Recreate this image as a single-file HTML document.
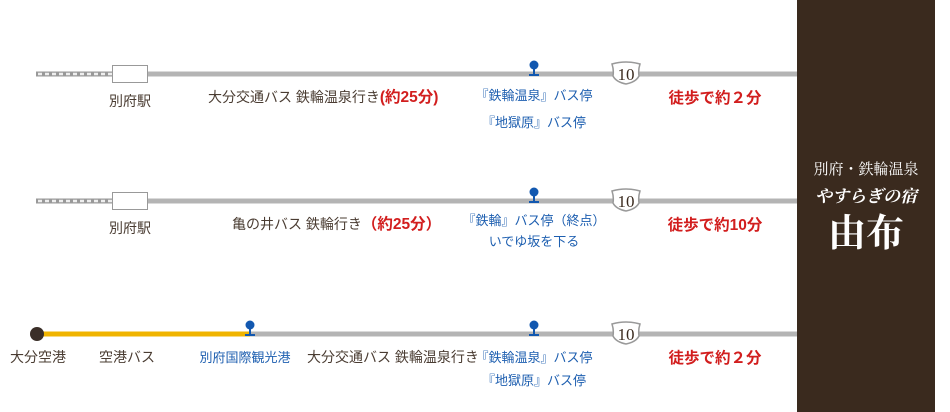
<!DOCTYPE html>
<html><head><meta charset="utf-8"><style>
body{margin:0;width:950px;height:412px;background:#fff;overflow:hidden}
svg{display:block}
text{font-family:"Liberation Sans","Noto Sans CJK JP",sans-serif;font-size:14px;fill:#4a3c32}
.b{fill:#1e5fb0;font-size:13px}.r{fill:#d21e1e;font-weight:bold;font-size:15.5px}
.n{font-family:"Liberation Serif","Noto Serif CJK SC",serif;font-size:17px;fill:#3a2a1e}
.w{fill:#fff;font-family:"Liberation Serif","Noto Serif CJK SC",serif}
</style></head><body>
<svg width="950" height="412" viewBox="0 0 950 412">
<defs>
<g id="pin"><circle cx="0" cy="-8" r="4.5" fill="#1258b0"/><rect x="-1" y="-6" width="2" height="7" fill="#1258b0"/><rect x="-5" y="1" width="10" height="2" fill="#1258b0"/></g>
<g id="sign"><path d="M-14,-10 Q0,-14 14,-10 Q12,-4 13,2 Q10,8 0,10 Q-10,8 -13,2 Q-12,-4 -14,-10Z" fill="#fff" stroke="#999" stroke-width="1.5"/></g>
</defs>
<!-- row1 -->
<rect x="36" y="71.5" width="76" height="5" fill="#999"/>
<line x1="38" y1="74" x2="112" y2="74" stroke="#eee" stroke-width="2.5" stroke-dasharray="4,3"/>
<rect x="148" y="71.5" width="650" height="5" fill="#b4b4b4"/>
<rect x="112.5" y="65.5" width="35" height="17" fill="#fff" stroke="#999"/>
<use href="#pin" x="534" y="73"/>
<use href="#sign" x="626" y="74"/><text class="n" x="626" y="80" text-anchor="middle">10</text>
<text x="130" y="106" text-anchor="middle">別府駅</text>
<text x="208" y="102">大分交通バス 鉄輪温泉行き<tspan class="r">(約25分)</tspan></text>
<text class="b" x="534" y="100" text-anchor="middle">『鉄輪温泉』バス停</text>
<text class="b" x="534" y="127" text-anchor="middle">『地獄原』バス停</text>
<text class="r" x="715" y="103" text-anchor="middle">徒歩で約２分</text>
<!-- row2 -->
<rect x="36" y="198.5" width="76" height="5" fill="#999"/>
<line x1="38" y1="201" x2="112" y2="201" stroke="#eee" stroke-width="2.5" stroke-dasharray="4,3"/>
<rect x="148" y="198.5" width="650" height="5" fill="#b4b4b4"/>
<rect x="112.5" y="192.5" width="35" height="17" fill="#fff" stroke="#999"/>
<use href="#pin" x="534" y="200"/>
<use href="#sign" x="626" y="201"/><text class="n" x="626" y="207" text-anchor="middle">10</text>
<text x="130" y="233" text-anchor="middle">別府駅</text>
<text x="232" y="229">亀の井バス 鉄輪行き<tspan class="r">（約25分）</tspan></text>
<text class="b" x="534" y="225" text-anchor="middle">『鉄輪』バス停（終点）</text>
<text class="b" x="534" y="246" text-anchor="middle">いでゆ坂を下る</text>
<text class="r" x="715" y="230" text-anchor="middle">徒歩で約10分</text>
<!-- row3 -->
<rect x="36" y="331.5" width="214" height="5" fill="#f0b400"/>
<rect x="250" y="331.5" width="548" height="5" fill="#b4b4b4"/>
<circle cx="37" cy="334" r="7" fill="#3a2e28"/>
<use href="#pin" x="250" y="333"/>
<use href="#pin" x="534" y="333"/>
<use href="#sign" x="626" y="334"/><text class="n" x="626" y="340" text-anchor="middle">10</text>
<text x="38" y="362" text-anchor="middle">大分空港</text>
<text x="127" y="362" text-anchor="middle">空港バス</text>
<text class="b" x="245" y="362" text-anchor="middle">別府国際観光港</text>
<text x="307" y="362">大分交通バス 鉄輪温泉行き</text>
<text class="b" x="534" y="362" text-anchor="middle">『鉄輪温泉』バス停</text>
<text class="b" x="534" y="385" text-anchor="middle">『地獄原』バス停</text>
<text class="r" x="715" y="363" text-anchor="middle">徒歩で約２分</text>
<!-- panel -->
<rect x="797" y="0" width="138" height="412" fill="#3a2a1e"/>
<text class="w" x="866" y="174" text-anchor="middle" style="font-size:15px">別府・鉄輪温泉</text>
<text class="w" x="866" y="202" text-anchor="middle" style="font-size:17px;font-style:italic;font-weight:bold">やすらぎの宿</text>
<text class="w" x="866" y="246" text-anchor="middle" style="font-size:38px;font-weight:bold">由布</text>
</svg>
</body></html>
